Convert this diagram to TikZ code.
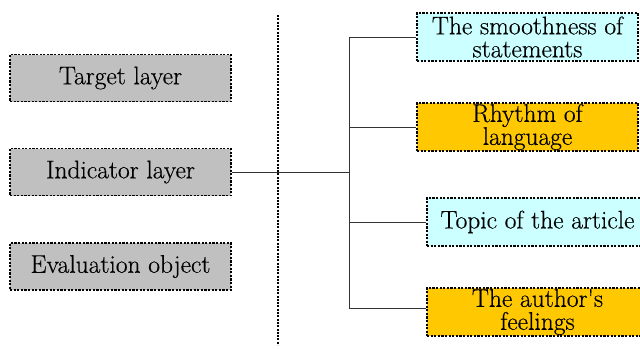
\documentclass[tikz,border=0pt]{standalone}
\usepackage{fontspec}
\newfontfamily\boxfont{Latin Modern Roman}[UprightFeatures={FakeBold=0.4}]
\definecolor{boxgray}{HTML}{C0C0C0}
\definecolor{boxcyan}{HTML}{CCFFFF}
\definecolor{boxgold}{HTML}{FFC800}
\tikzset{
  layerbox/.style={draw=black, line width=1.3pt, dash pattern=on 2.2pt off 1.4pt,
    rectangle, minimum width=221pt, minimum height=47pt, inner sep=0pt,
    align=center, font=\boxfont\fontsize{25.5}{23}\selectfont, text=black},
  graybox/.style={layerbox, fill=boxgray},
  cyanbox/.style={layerbox, fill=boxcyan},
  goldbox/.style={layerbox, fill=boxgold},
  link/.style={draw=black!80, line width=0.9pt},
  divider/.style={draw=black, line width=1.6pt, dash pattern=on 2pt off 1.3pt}
}
\begin{document}
\begin{tikzpicture}[x=1pt,y=-1pt]
\useasboundingbox (0,0) rectangle (640,349);

% left column: the three levels
\node[graybox] (target) at (120.5,78) {Target layer};
\node[graybox] (ind)    at (120.5,172) {Indicator layer};
\node[graybox] (eval)   at (120.5,266.5) {Evaluation object};

% separator
\coordinate (sepTop) at (278,15);
\coordinate (sepBot) at (278,345);
\draw[divider] (sepTop) -- (sepBot);

% right column: indicators
\node[cyanbox, minimum height=48pt] (smooth) at (527.5,37) {The smoothness of\\statements};
\node[goldbox, minimum height=48pt] (rhythm) at (527.5,127) {Rhythm of\\language};
\node[cyanbox, minimum height=48pt] (topic)  at (537.5,222) {Topic of the article};
\node[goldbox, minimum height=48pt] (author) at (537.5,312) {The author\textquotesingle s\\feelings};

% tree connectors
\coordinate (junc) at (349,172);
\draw[link] (ind.east) -- (junc);
\draw[link] (junc) |- (smooth.west);
\draw[link] (junc) |- (rhythm.west);
\draw[link] (junc) |- (topic.west);
\draw[link] (junc) |- ([yshift=4pt]author.west);
\end{tikzpicture}
\end{document}
